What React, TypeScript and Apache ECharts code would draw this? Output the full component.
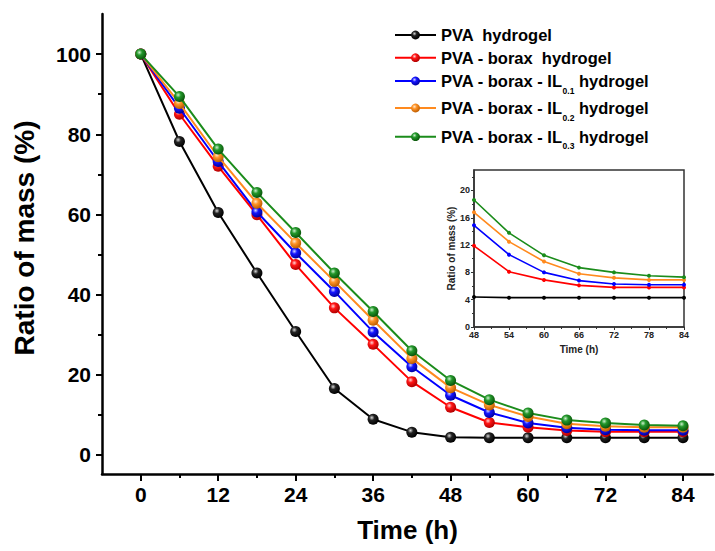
import React, { useEffect, useRef } from 'react';
import * as echarts from 'echarts';

const times = [0, 6, 12, 18, 24, 30, 36, 42, 48, 54, 60, 66, 72, 78, 84];
const pvaValues = [100, 78.2, 60.5, 45.4, 30.8, 16.6, 8.9, 5.7, 4.4, 4.3, 4.3, 4.3, 4.3, 4.3, 4.3];
const boraxValues = [100, 85.0, 72.0, 59.9, 47.5, 36.7, 27.6, 18.3, 11.9, 8.1, 6.9, 6.1, 5.8, 5.8, 5.8];
const il01Values = [100, 86.5, 73.2, 60.6, 50.4, 40.8, 30.7, 22.0, 14.9, 10.6, 8.0, 6.8, 6.3, 6.2, 6.2];
const il02Values = [100, 87.7, 74.4, 62.8, 52.9, 43.3, 33.6, 24.1, 16.8, 12.5, 9.6, 7.8, 7.2, 6.9, 6.9];
const il03Values = [100, 89.4, 76.3, 65.5, 55.5, 45.4, 35.8, 26.0, 18.6, 13.8, 10.5, 8.7, 8.0, 7.5, 7.3];

const seriesNames = [
  'PVA  hydrogel',
  'PVA - borax  hydrogel',
  'PVA - borax - IL0.1 hydrogel',
  'PVA - borax - IL0.2 hydrogel',
  'PVA - borax - IL0.3 hydrogel',
];
const legendLabels = [
  '{m|PVA  hydrogel}',
  '{m|PVA - borax  hydrogel}',
  '{m|PVA - borax - IL}{sub|0.1}{m| hydrogel}',
  '{m|PVA - borax - IL}{sub|0.2}{m| hydrogel}',
  '{m|PVA - borax - IL}{sub|0.3}{m| hydrogel}',
];
const seriesValues = [pvaValues, boraxValues, il01Values, il02Values, il03Values];

const xTicks = [0, 12, 24, 36, 48, 60, 72, 84];
const xMinorTicks = [6, 18, 30, 42, 54, 66, 78];
const yTicks = [0, 20, 40, 60, 80, 100];
const yMinorTicks = [10, 30, 50, 70, 90];
const insetStart = 48;
const insetXTicks = [48, 54, 60, 66, 72, 78, 84];
const insetXMinor = [51, 57, 63, 69, 75, 81];
const insetYTicks = [0, 4, 8, 12, 16, 20];
const insetYMinor = [2, 6, 10, 14, 18, 22];

const lineColors = ['#000000', '#ff0000', '#0000ff', '#ff8a1e', '#1b8c1b'];
const sphereShades = [
  ['#d8d8d8', '#222222', '#000000'],
  ['#ffd6d6', '#ff1515', '#b00000'],
  ['#d6d6ff', '#1515ff', '#0000a0'],
  ['#ffe8cc', '#ff9428', '#c05e00'],
  ['#ccf0cc', '#24982c', '#0a560a'],
];

const FONT = 'Liberation Sans, Arial, sans-serif';
const legendTops = [26, 48.7, 72, 99, 127.7];

export default function App() {
  const ref = useRef<HTMLDivElement>(null);
  useEffect(() => {
    if (!ref.current) return;
    const chart = echarts.init(ref.current, undefined, { renderer: 'svg' });

    const sphere = (i: number) =>
      new echarts.graphic.RadialGradient(0.38, 0.35, 0.65, [
        { offset: 0, color: sphereShades[i][0] },
        { offset: 0.38, color: sphereShades[i][1] },
        { offset: 1, color: sphereShades[i][2] },
      ]);

    const mainSeries = seriesNames.map((name, i) => ({
      type: 'line',
      name,
      xAxisIndex: 0,
      yAxisIndex: 0,
      data: times.map((t, k) => [t, seriesValues[i][k]]),
      symbol: 'circle',
      symbolSize: 11,
      lineStyle: { color: lineColors[i], width: 2 },
      itemStyle: { color: sphere(i) },
      z: 3 + i,
    }));

    const insetSeries = seriesNames.map((name, i) => ({
      type: 'line',
      name: 'inset ' + name,
      xAxisIndex: 2,
      yAxisIndex: 2,
      data: times
        .map((t, k) => [t, seriesValues[i][k]])
        .filter((p) => p[0] >= insetStart),
      symbol: 'circle',
      symbolSize: 4,
      lineStyle: { color: lineColors[i], width: 1.6 },
      itemStyle: { color: lineColors[i] },
      z: 3 + i,
    }));

    const axisFont = { fontFamily: FONT, fontWeight: 'bold' as const, color: '#000' };

    const legends = seriesNames.map((name, i) => ({
      data: [name],
      left: 394,
      top: legendTops[i],
      orient: 'vertical',
      padding: 0,
      itemWidth: 41,
      itemHeight: 11,
      selectedMode: false,
      formatter: () => legendLabels[i],
      textStyle: {
        fontFamily: FONT,
        fontWeight: 'bold',
        fontSize: 16.5,
        lineHeight: 18,
        color: '#000',
        rich: {
          m: {
            fontFamily: FONT,
            fontWeight: 'bold',
            fontSize: 16.5,
            lineHeight: 18,
            color: '#000',
          },
          sub: {
            fontFamily: FONT,
            fontWeight: 'bold',
            fontSize: 8.5,
            lineHeight: 8,
            verticalAlign: 'top',
            padding: [14, 0, 0, 0],
            color: '#000',
          },
        },
      },
    }));

    chart.setOption({
      animation: false,
      backgroundColor: '#ffffff',
      legend: legends,
      grid: [
        { left: 102, top: 14, width: 611, height: 460 },
        {
          left: 474, top: 170, width: 210, height: 157,
          show: true, borderColor: '#333', borderWidth: 1.5, backgroundColor: 'transparent',
        },
      ],
      xAxis: [
        {
          type: 'value', gridIndex: 0, min: -6, max: 88.65,
          name: 'Time (h)', nameLocation: 'middle', nameGap: 43,
          nameTextStyle: { ...axisFont, fontSize: 26 },
          axisLine: { show: true, onZero: false, lineStyle: { color: '#000', width: 2.5 } },
          axisTick: { show: true, customValues: xTicks, length: 7, lineStyle: { color: '#000', width: 2 } },
          axisLabel: { customValues: xTicks, ...axisFont, fontSize: 21, margin: 10 },
          splitLine: { show: false },
        },
        {
          type: 'value', gridIndex: 0, min: -6, max: 88.65, position: 'bottom', offset: 0,
          axisLine: { show: false, onZero: false },
          axisTick: { show: true, customValues: xMinorTicks, length: 4, lineStyle: { color: '#000', width: 2 } },
          axisLabel: { show: false },
          splitLine: { show: false },
        },
        {
          type: 'value', gridIndex: 1, min: 48, max: 84,
          name: 'Time (h)', nameLocation: 'middle', nameGap: 17,
          nameTextStyle: { ...axisFont, fontSize: 10, color: '#222' },
          axisLine: { show: true, onZero: false, lineStyle: { color: '#333', width: 1.5 } },
          axisTick: { show: true, customValues: insetXTicks, length: 3, lineStyle: { color: '#333', width: 1 } },
          axisLabel: { customValues: insetXTicks, ...axisFont, color: '#222', fontSize: 9, margin: 3 },
          splitLine: { show: false },
        },
        {
          type: 'value', gridIndex: 1, min: 48, max: 84, position: 'bottom', offset: 0,
          axisLine: { show: false, onZero: false },
          axisTick: { show: true, customValues: insetXMinor, length: 2, lineStyle: { color: '#333', width: 1 } },
          axisLabel: { show: false },
          splitLine: { show: false },
        },
      ],
      yAxis: [
        {
          type: 'value', gridIndex: 0, min: -4.74, max: 110,
          name: 'Ratio of mass (%)', nameLocation: 'middle', nameGap: 64, nameRotate: 90,
          nameTextStyle: { ...axisFont, fontSize: 28, padding: [0, 0, 0, 12] },
          axisLine: { show: true, onZero: false, lineStyle: { color: '#000', width: 2.5 } },
          axisTick: { show: true, customValues: yTicks, length: 6, lineStyle: { color: '#000', width: 2 } },
          axisLabel: { customValues: yTicks, ...axisFont, fontSize: 21, margin: 11 },
          splitLine: { show: false },
        },
        {
          type: 'value', gridIndex: 0, min: -4.74, max: 110, position: 'left', offset: 0,
          axisLine: { show: false, onZero: false },
          axisTick: { show: true, customValues: yMinorTicks, length: 4, lineStyle: { color: '#000', width: 2 } },
          axisLabel: { show: false },
          splitLine: { show: false },
        },
        {
          type: 'value', gridIndex: 1, min: 0, max: 23,
          name: 'Ratio of mass (%)', nameLocation: 'middle', nameGap: 18, nameRotate: 90,
          nameTextStyle: { ...axisFont, fontSize: 10, color: '#222' },
          axisLine: { show: true, onZero: false, lineStyle: { color: '#333', width: 1.5 } },
          axisTick: { show: true, customValues: insetYTicks, length: 3, lineStyle: { color: '#333', width: 1 } },
          axisLabel: { customValues: insetYTicks, ...axisFont, color: '#222', fontSize: 9, margin: 4 },
          splitLine: { show: false },
        },
        {
          type: 'value', gridIndex: 1, min: 0, max: 23, position: 'left', offset: 0,
          axisLine: { show: false, onZero: false },
          axisTick: { show: true, customValues: insetYMinor, length: 2, lineStyle: { color: '#333', width: 1 } },
          axisLabel: { show: false },
          splitLine: { show: false },
        },
      ],
      series: [...mainSeries, ...insetSeries],
    });

    return () => chart.dispose();
  }, []);

  return (
    <div
      ref={ref}
      style={{ position: 'absolute', left: 0, top: 0, width: 715, height: 551 }}
    />
  );
}
